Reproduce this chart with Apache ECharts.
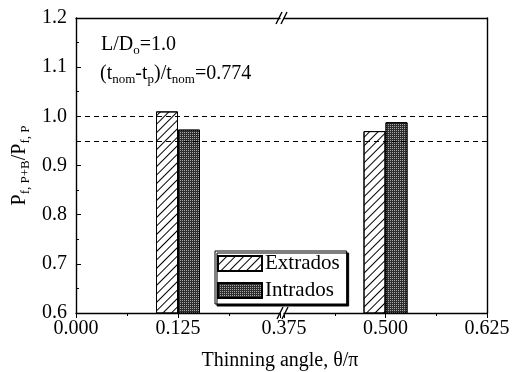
<!DOCTYPE html>
<html>
<head>
<meta charset="utf-8">
<script src="https://cdn.jsdelivr.net/npm/echarts@6/dist/echarts.min.js"></script>
<style>
  html, body { margin: 0; padding: 0; background: #fff; }
  #chart { width: 523px; height: 372px; }
</style>
</head>
<body>
<div id="chart"></div>
<script>
// thinning angle (theta/pi) for each bar pair
var angles = [0.125, 0.5];
var extrados = [1.01, 0.97];
var intrados = [0.973, 0.988];
// dashed reference levels
var refLevels = [1.0, 0.95];
var seriesNames = ['Extrados', 'Intrados'];

var FONT = 'Liberation Serif';

function pairs(vals, lo, hi) {
  return angles.map(function (a, i) { return [a, vals[i]]; })
    .filter(function (p) { return p[0] >= lo && p[0] <= hi; });
}

var chart = echarts.init(document.getElementById('chart'), null, { renderer: 'canvas' });

var extStyle = {
  color: '#fff',
  borderColor: '#000',
  borderWidth: 1,
  decal: {
    symbol: 'rect', symbolSize: 1, color: '#000',
    dashArrayX: [1, 0], dashArrayY: [1, 5], rotation: -Math.PI / 4
  }
};
var intStyle = {
  color: '#2e2e2e',
  borderColor: '#000',
  borderWidth: 1,
  decal: {
    symbol: 'rect', symbolSize: 1, color: '#a8a8a8',
    dashArrayX: [1, 1], dashArrayY: [1, 1]
  }
};

function xAxisBottom(grid, min, max, showMax) {
  return {
    gridIndex: grid, type: 'value', position: 'bottom', min: min, max: max, interval: 0.125,
    axisLine: { show: true, onZero: false, lineStyle: { color: '#000', width: 1.4 } },
    axisTick: { show: true, inside: false, length: 5, lineStyle: { color: '#000' } },
    minorTick: { show: true, splitNumber: 2, length: 3, lineStyle: { color: '#000' } },
    axisLabel: {
      show: true, color: '#000', fontFamily: FONT, fontSize: 20, margin: 6,
      showMaxLabel: showMax, showMinLabel: true,
      formatter: function (v) { return v.toFixed(3); }
    },
    splitLine: { show: false }
  };
}
function xAxisTop(grid, min, max) {
  return {
    gridIndex: grid, type: 'value', position: 'top', min: min, max: max,
    axisLine: { show: true, onZero: false, lineStyle: { color: '#000', width: 1.4 } },
    axisTick: { show: false }, axisLabel: { show: false }, splitLine: { show: false }
  };
}

function barSeries(name, vals, grid, lo, hi, style) {
  return {
    name: name, type: 'bar', xAxisIndex: grid, yAxisIndex: grid,
    data: pairs(vals, lo, hi), barWidth: 22, barGap: '0%', z: 3,
    itemStyle: style
  };
}
function refSeries(grid) {
  return {
    type: 'line', xAxisIndex: grid, yAxisIndex: grid, data: [], z: 1,
    silent: true,
    markLine: {
      silent: true, symbol: ['none', 'none'], label: { show: false },
      lineStyle: { color: '#000', type: [5, 4], width: 1 },
      data: refLevels.map(function (v) { return { yAxis: v }; })
    }
  };
}

var subRich = {
  n: { fontFamily: FONT, fontSize: 20, fill: '#000', color: '#000', lineHeight: 22, verticalAlign: 'top' },
  s: { fontFamily: FONT, fontSize: 13, fill: '#000', color: '#000', lineHeight: 12, verticalAlign: 'bottom' }
};

var option = {
  backgroundColor: '#fff',
  animation: false,
  textStyle: { fontFamily: FONT, color: '#000' },
  grid: [
    { left: 76, top: 18, width: 204, height: 295 },
    { left: 284, top: 18, width: 203, height: 295 }
  ],
  legend: {
    data: seriesNames,
    orient: 'vertical',
    left: 215, top: 251,
    itemWidth: 44, itemHeight: 15, itemGap: 6,
    icon: 'rect',
    padding: [2, 7, 3, 2],
    borderColor: '#000', borderWidth: 1,
    backgroundColor: '#fff',
    shadowColor: '#000', shadowOffsetX: 2, shadowOffsetY: 2, shadowBlur: 0,
    textStyle: { color: '#000', fontFamily: FONT, fontSize: 21, lineHeight: 21, padding: [0, 0, 0, -2] }
  },
  xAxis: [
    xAxisBottom(0, 0, 0.25, false),
    xAxisBottom(1, 0.375, 0.625, true),
    xAxisTop(0, 0, 0.25),
    xAxisTop(1, 0.375, 0.625)
  ],
  yAxis: [
    {
      gridIndex: 0, type: 'value', position: 'left', min: 0.6, max: 1.2, interval: 0.1,
      axisLine: { show: true, onZero: false, lineStyle: { color: '#000', width: 1.4 } },
      axisTick: { show: true, inside: true, length: 5, lineStyle: { color: '#000' } },
      minorTick: { show: true, splitNumber: 2, length: 3, lineStyle: { color: '#000' } },
      axisLabel: {
        color: '#000', fontFamily: FONT, fontSize: 20, margin: 9,
        formatter: function (v) { return v.toFixed(1); }
      },
      splitLine: { show: false },
      name: '{p|P}{s|f, P+B}{p|/P}{s|f, P}',
      nameLocation: 'middle', nameGap: 44,
      nameTextStyle: {
        rich: {
          p: { fontFamily: FONT, fontSize: 20, color: '#000', lineHeight: 22, verticalAlign: 'top' },
          s: { fontFamily: FONT, fontSize: 13, color: '#000', lineHeight: 12, verticalAlign: 'bottom' }
        }
      }
    },
    {
      gridIndex: 1, type: 'value', position: 'right', min: 0.6, max: 1.2, interval: 0.1,
      axisLine: { show: true, onZero: false, lineStyle: { color: '#000', width: 1.4 } },
      axisTick: { show: false }, axisLabel: { show: false }, splitLine: { show: false }
    }
  ],
  series: [
    refSeries(0),
    refSeries(1),
    barSeries('Extrados', extrados, 0, 0, 0.25, extStyle),
    barSeries('Intrados', intrados, 0, 0, 0.25, intStyle),
    barSeries('Extrados', extrados, 1, 0.375, 0.625, extStyle),
    barSeries('Intrados', intrados, 1, 0.375, 0.625, intStyle)
  ],
  graphic: [
    {
      type: 'text', x: 101, y: 35, z: 10,
      style: { text: '{n|L/D}{s|o}{n|=1.0}', rich: subRich }
    },
    {
      type: 'text', x: 100, y: 64, z: 10,
      style: { text: '{n|(t}{s|nom}{n|-t}{s|p}{n|)/t}{s|nom}{n|=0.774}', rich: subRich }
    },
    {
      type: 'text', x: 280, y: 361, z: 10,
      style: {
        text: 'Thinning angle, \u03b8/\u03c0', align: 'center', verticalAlign: 'middle',
        fontFamily: FONT, fontSize: 20, fill: '#000'
      }
    },
    // axis break marks
    { type: 'line', z: 10, shape: { x1: 276, y1: 24, x2: 282, y2: 12 }, style: { stroke: '#000', lineWidth: 1.4 } },
    { type: 'line', z: 10, shape: { x1: 281, y1: 24, x2: 287, y2: 12 }, style: { stroke: '#000', lineWidth: 1.4 } },
    { type: 'line', z: 10, shape: { x1: 277, y1: 319, x2: 283, y2: 307 }, style: { stroke: '#000', lineWidth: 1.4 } },
    { type: 'line', z: 10, shape: { x1: 282, y1: 319, x2: 288, y2: 307 }, style: { stroke: '#000', lineWidth: 1.4 } }
  ]
};

chart.setOption(option);
</script>
</body>
</html>
